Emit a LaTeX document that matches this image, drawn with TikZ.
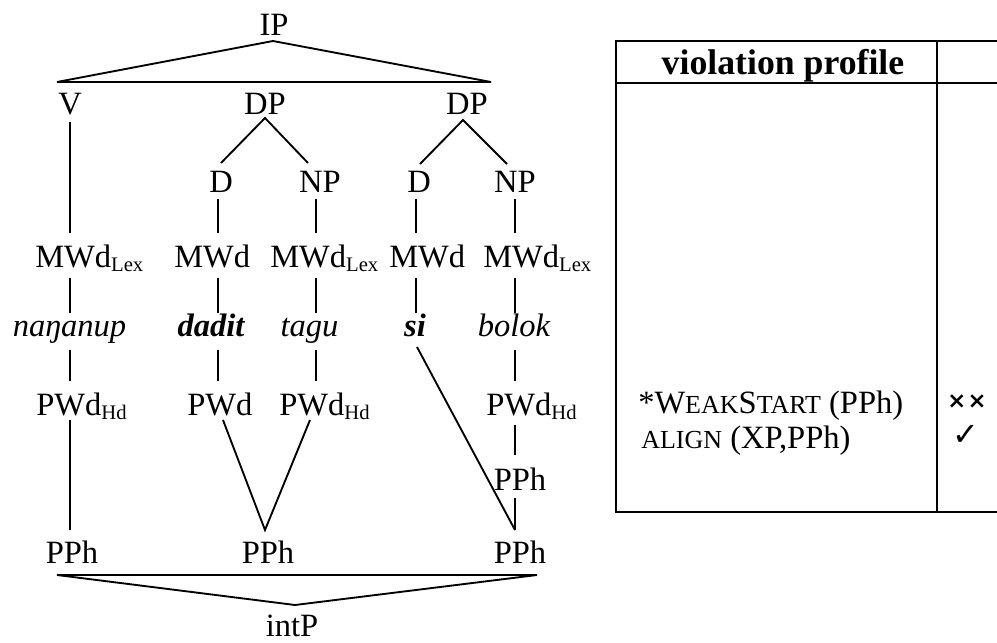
\documentclass[tikz,border=0pt]{standalone}
\usepackage{fontspec}
\setmainfont{Liberation Serif}
\newfontfamily\djv{DejaVu Sans}
\usetikzlibrary{calc}
\newcommand{\sbx}[1]{\raisebox{-3.5pt}{\fontsize{15.5}{16}\selectfont #1}}
\newcommand{\smc}[1]{{\fontsize{19.5}{20}\selectfont #1}}
\begin{document}
\begin{tikzpicture}[x=0.75pt,y=-0.75pt,
  lbl/.style={inner sep=0pt, anchor=base, font=\fontsize{24.4}{28}\selectfont},
  lblw/.style={lbl, anchor=base west},
  edge/.style={line width=1.4pt},
  tbl/.style={line width=1.5pt}]
\useasboundingbox (0,0) rectangle (997,643);
% column coordinates
\coordinate (c1) at (70,0);
\coordinate (c2) at (218,0);
\coordinate (c3) at (316,0);
\coordinate (c4) at (416,0);
\coordinate (c5) at (515,0);
\coordinate (c2a) at (223,0);
\coordinate (c3a) at (310,0);
% nodes
\node[lbl] (IP) at (274,35) {IP};
\node[lbl] (V) at (70,114) {V};
\node[lbl] (DP1) at (265,114) {DP};
\node[lbl] (DP2) at (467,114) {DP};
\node[lbl] (D1) at (221,192) {D};
\node[lbl] (NP1) at (320,192) {NP};
\node[lbl] (D2) at (419,192) {D};
\node[lbl] (NP2) at (515,192) {NP};
\node[lblw] (M1) at (35,267) {MWd\sbx{Lex}};
\node[lblw] (M2) at (174,267) {MWd};
\node[lblw] (M3) at (270,267) {MWd\sbx{Lex}};
\node[lblw] (M4) at (389,267) {MWd};
\node[lblw] (M5) at (483,267) {MWd\sbx{Lex}};
\node[lbl] (W1) at (69.5,336) {\itshape naŋanup};
\node[lbl] (W2) at (211,336) {\bfseries\itshape dadit};
\node[lbl] (W3) at (309.5,336) {\itshape tagu};
\node[lbl] (W4) at (415,336) {\bfseries\itshape si};
\node[lbl] (W5) at (514,336) {\itshape bolok};
\node[lblw] (P1) at (36,415) {PWd\sbx{Hd}};
\node[lblw] (P2) at (187,415) {PWd};
\node[lblw] (P3) at (279,415) {PWd\sbx{Hd}};
\node[lblw] (P5) at (486,415) {PWd\sbx{Hd}};
\node[lbl] (Q5) at (520,490) {PPh};
\node[lbl] (B1) at (72,563) {PPh};
\node[lbl] (B2) at (268,563) {PPh};
\node[lbl] (B3) at (520,563) {PPh};
\node[lbl] (I) at (292,636) {intP};
% IP triangle
\draw[edge, line join=miter] ($(V.base)+(-13,-32)$) -- ($(IP.base)+(-1,6)$) -- ($(DP2.base)+(24,-32)$) -- cycle;
% DP branches
\draw[edge] ($(D1.base)+(0,-29)$) -- ($(DP1.base)+(0,4)$) -- ($(NP1.base)+(-12,-29)$);
\draw[edge] ($(D2.base)+(1,-28)$) -- ($(DP2.base)+(-4,6)$) -- ($(NP2.base)+(-8,-28)$);
% V to MWd
\draw[edge] ($(c1 |- V.base)+(0,8)$) -- ($(c1 |- M1.base)+(0,-34)$);
% D/NP to MWd
\draw[edge] ($(c2 |- D1.base)+(0,7)$) -- ($(c2 |- M2.base)+(0,-34)$);
\draw[edge] ($(c3 |- NP1.base)+(0,7)$) -- ($(c3 |- M3.base)+(0,-34)$);
\draw[edge] ($(c4 |- D2.base)+(0,7)$) -- ($(c4 |- M4.base)+(0,-34)$);
\draw[edge] ($(c5 |- NP2.base)+(0,7)$) -- ($(c5 |- M5.base)+(0,-34)$);
% MWd to words
\draw[edge] ($(c1 |- M1.base)+(0,11)$) -- ($(c1 |- W1.base)+(0,-23)$);
\draw[edge] ($(c2 |- M2.base)+(0,11)$) -- ($(c2 |- W2.base)+(0,-23)$);
\draw[edge] ($(c3 |- M3.base)+(0,11)$) -- ($(c3 |- W3.base)+(0,-23)$);
\draw[edge] ($(c4 |- M4.base)+(0,11)$) -- ($(c4 |- W4.base)+(0,-23)$);
\draw[edge] ($(c5 |- M5.base)+(0,11)$) -- ($(c5 |- W5.base)+(0,-23)$);
% words to PWd
\draw[edge] ($(c1 |- W1.base)+(0,14)$) -- ($(c1 |- P1.base)+(0,-34)$);
\draw[edge] ($(c2 |- W2.base)+(0,14)$) -- ($(c2 |- P2.base)+(0,-34)$);
\draw[edge] ($(c3 |- W3.base)+(0,14)$) -- ($(c3 |- P3.base)+(0,-34)$);
\draw[edge] ($(c5 |- W5.base)+(0,14)$) -- ($(c5 |- P5.base)+(0,-34)$);
% PWd to PPh
\draw[edge] ($(c1 |- P1.base)+(0,5)$) -- ($(c1 |- B1.base)+(0,-33)$);
\draw[edge] ($(c2a |- P2.base)+(0,5)$) -- ($(B2.base)+(-3,-33)$) -- ($(c3a |- P3.base)+(0,5)$);
\draw[edge] ($(W4.base)+(2,11)$) -- ($(c5 |- B3.base)+(0,-33)$);
\draw[edge] ($(c5 |- P5.base)+(0,10)$) -- ($(c5 |- Q5.base)+(0,-35)$);
\draw[edge] ($(c5 |- Q5.base)+(0,8)$) -- ($(c5 |- B3.base)+(0,-33)$);
% intP triangle
\draw[edge, line join=miter] ($(B1.base)+(-15,12)$) -- ($(B3.base)+(17,12)$) -- ($(I.base)+(3,-31)$) -- cycle;
% table
\draw[tbl] (997,41) -- (616,41) -- (616,512) -- (997,512);
\draw[tbl] (616,83) -- (997,83);
\draw[tbl] (937,41) -- (937,512);
\node[inner sep=0pt, anchor=base, font=\bfseries\fontsize{26.8}{30}\selectfont] (hdr) at (783,74) {violation profile};
\node[lblw] (k1) at (638,413) {*W\smc{EAK}S\smc{TART} (PPh)};
\node[lblw] (k2) at (641,448) {\smc{ALIGN} (XP,PPh)};
\node[inner sep=0pt, font=\djv\bfseries\fontsize{17}{18}\selectfont] (xx) at (967,402) {×\kern1pt×};
\node[inner sep=0pt, font=\djv\fontsize{24}{26}\selectfont] (ck) at (966,435) {✓};
\end{tikzpicture}
\end{document}
